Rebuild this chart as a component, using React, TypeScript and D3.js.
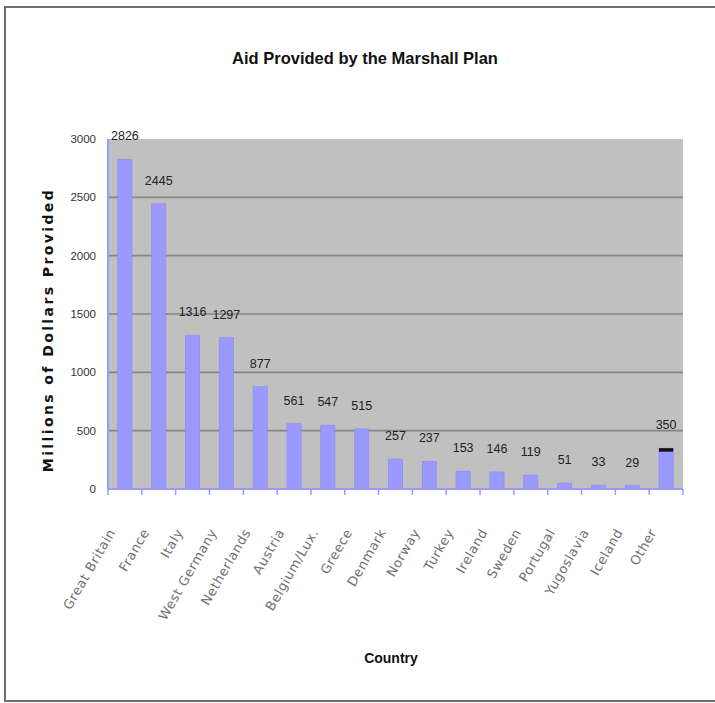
import React from "react";
import * as d3 from "d3";

const countries = [
  "Great Britain", "France", "Italy", "West Germany", "Netherlands", "Austria",
  "Belgium/Lux.", "Greece", "Denmark", "Norway", "Turkey", "Ireland", "Sweden",
  "Portugal", "Yugoslavia", "Iceland", "Other",
];
const aid = [2826, 2445, 1316, 1297, 877, 561, 547, 515, 257, 237, 153, 146, 119, 51, 33, 29, 350];
const darkTop = [0, 0, 0, 0, 0, 0, 0, 0, 0, 0, 0, 0, 0, 0, 0, 0, 30];
const yTicks = [0, 500, 1000, 1500, 2000, 2500, 3000];

const W = 715;
const H = 703;
const plot = { left: 108, right: 683, top: 139, bottom: 489 };

export default function App() {
  const x = d3.scaleBand<string>().domain(countries).range([plot.left, plot.right]).padding(0);
  const y = d3.scaleLinear().domain([0, 3000]).range([plot.bottom, plot.top]);
  const bw = x.bandwidth();
  const barW = bw * 0.42;
  const axisColor = "#9a9aff";

  return (
    <svg width={W} height={H} style={{ position: "absolute", left: 0, top: 0, background: "#fff" }}>
      <rect x={5} y={7} width={W + 10} height={694} fill="#fff" stroke="#6e6e6e" strokeWidth={2} />
      <text x={365} y={64} textAnchor="middle" fontFamily="Liberation Sans, Arial, sans-serif"
        fontWeight="bold" fontSize={16.5} fill="#111">Aid Provided by the Marshall Plan</text>

      <rect x={plot.left} y={y(3000)} width={plot.right - plot.left} height={y(0) - y(3000)} fill="#c0c0c0" />
      {yTicks.filter(t => t > 0 && t < 3000).map(t => (
        <line key={t} x1={plot.left} x2={plot.right} y1={y(t)} y2={y(t)} stroke="#868686" strokeWidth={1.6} />
      ))}
      {yTicks.map(t => (
        <text key={"yl" + t} x={96} y={y(t) + 4} textAnchor="end" fontFamily="Liberation Sans Narrow, Liberation Sans, sans-serif"
          fontSize={11.5} fill="#333">{t}</text>
      ))}

      {countries.map((c, i) => {
        const bx = (x(c) as number) + (bw - barW) / 2;
        return (
          <g key={c}>
            <rect x={bx} y={y(aid[i])} width={barW} height={y(0) - y(aid[i])} fill="#9999ff" stroke="#8a8af0" strokeWidth={0.6} />
            {darkTop[i] > 0 && (
              <rect x={bx} y={y(aid[i])} width={barW} height={y(0) - y(darkTop[i])} fill="#111" />
            )}
            <text x={bx + barW / 2} y={y(aid[i]) - 19} textAnchor="middle"
              fontFamily="Liberation Sans Narrow, Liberation Sans, sans-serif" fontSize={12.5} fill="#222">{aid[i]}</text>
          </g>
        );
      })}

      <line x1={plot.left} x2={plot.left} y1={plot.top} y2={plot.bottom} stroke={axisColor} strokeWidth={2} />
      <line x1={plot.left} x2={plot.right} y1={plot.bottom} y2={plot.bottom} stroke={axisColor} strokeWidth={2} />
      {[...countries.map(c => x(c) as number), plot.right].map((tx, i) => (
        <line key={"tk" + i} x1={tx} x2={tx} y1={plot.bottom} y2={plot.bottom + 6} stroke={axisColor} strokeWidth={1.5} />
      ))}

      {countries.map(c => {
        const cx = (x(c) as number) + bw / 2;
        return (
          <text key={"xl" + c} transform={`translate(${cx - 9},${plot.bottom + 43}) rotate(-60)`} textAnchor="end"
            fontFamily="DejaVu Sans, Verdana, sans-serif" fontSize={13} letterSpacing={0.6} fill="#707070">{c}</text>
        );
      })}

      <text transform={`translate(53,${330}) rotate(-90)`} textAnchor="middle" fontFamily="DejaVu Sans, Verdana, sans-serif"
        fontWeight="bold" fontSize={14} letterSpacing={2.4} fill="#111">Millions of Dollars Provided</text>
      <text x={391} y={663} textAnchor="middle" fontFamily="Liberation Sans, Arial, sans-serif" fontWeight="bold"
        fontSize={14} fill="#111">Country</text>
    </svg>
  );
}
